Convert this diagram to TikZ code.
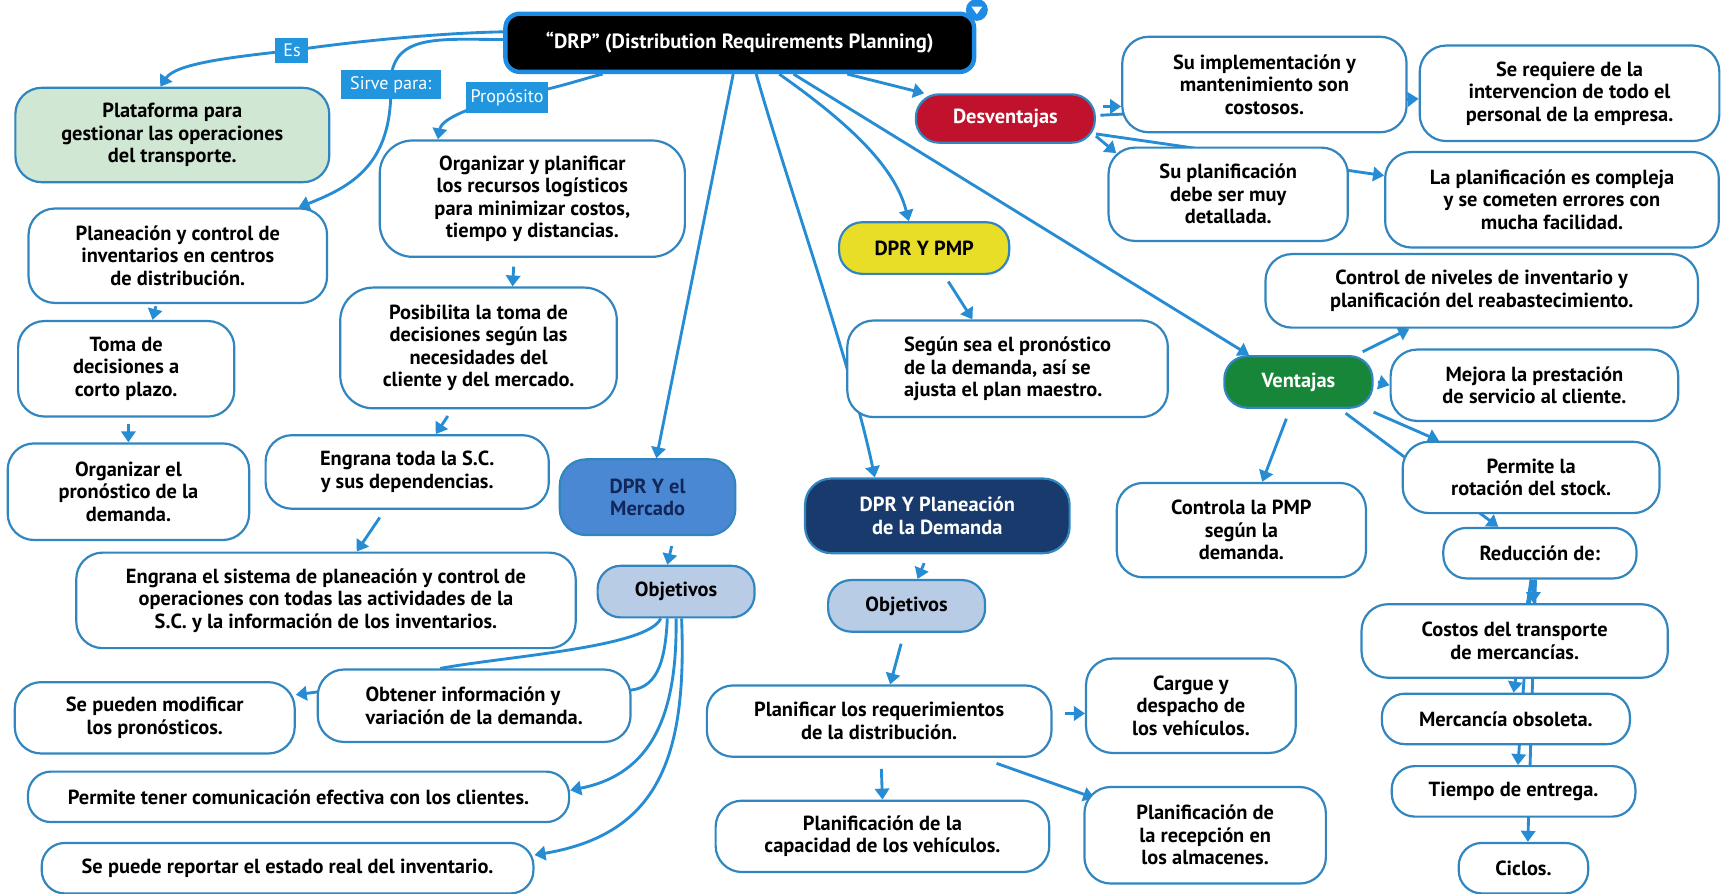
\documentclass[tikz,border=0pt]{standalone}
\usepackage{fontspec}
\setmainfont{PT Sans}
\usetikzlibrary{arrows.meta}
\definecolor{edgeblue}{RGB}{38,140,212}
\definecolor{nodeblue}{RGB}{50,134,192}
\definecolor{tagblue}{RGB}{33,150,222}
\definecolor{platgreen}{RGB}{208,231,212}
\definecolor{mercblue}{RGB}{74,136,212}
\definecolor{navytext}{RGB}{18,38,88}
\definecolor{objblue}{RGB}{184,204,230}
\definecolor{deepnavy}{RGB}{24,58,108}
\definecolor{pmpyellow}{RGB}{232,222,40}
\definecolor{desvred}{RGB}{192,18,44}
\definecolor{ventgreen}{RGB}{24,134,56}
\definecolor{rootblue}{RGB}{30,140,228}
\pgfdeclarelayer{back}
\pgfdeclarelayer{links}
\pgfsetlayers{back,links,main}
\tikzset{
  box/.style={draw=nodeblue, line width=2pt, fill=white, rounded corners=24pt,
    align=center, inner sep=0pt, font=\bfseries\fontsize{18.6}{20.5}\selectfont},
  pill/.style={box, rounded corners=21pt},
  wh/.style 2 args={minimum width=#1pt, minimum height=#2pt},
  tagbox/.style={fill=tagblue, text=white, inner sep=0pt, font=\fontsize{16.5}{18}\selectfont},
  conn/.style={draw=edgeblue, line width=2.6pt, -{Triangle[length=10pt,width=13pt]}},
  bare/.style={draw=edgeblue, line width=2.6pt},
}
\begin{document}
\begin{tikzpicture}[x=1pt, y=-1pt]
\useasboundingbox (0,0) rectangle (1568,814);
\begin{pgfonlayer}{back}
  \fill[white] (0,0) rectangle (1568,814);
\end{pgfonlayer}

% central topic
\node[draw=rootblue, line width=4pt, fill=black, rounded corners=13pt, text=white,
  font=\bfseries\fontsize{18.8}{21}\selectfont, wh={427}{53}, inner sep=0pt]
  (root) at (674,39) {“DRP” (Distribution Requirements Planning)};
\node[circle, fill=rootblue, minimum size=20pt, inner sep=0pt] (fold) at (890,9) {};
\fill[white] ([shift={(-5pt,3pt)}]fold.center) -- ++(10pt,0pt) -- ++(-5pt,-7pt) -- cycle;

% link labels
\node[tagbox, wh={30}{22}] (es) at (266,46) {Es};
\node[tagbox, wh={91}{27}] (sirve) at (356,77) {Sirve para:};
\node[tagbox, wh={75}{28}] (prop) at (462,89) {Propósito};

% left branch
\node[box, fill=platgreen, wh={286}{86}] (plat) at (157,123) {Plataforma para\\gestionar las operaciones\\del transporte.};
\node[box, wh={272}{86}] (planea) at (162,233) {Planeación y control de\\inventarios en centros\\de distribución.};
\node[box, wh={197}{87}] (toma) at (115,336) {Toma de\\decisiones a\\corto plazo.};
\node[box, wh={220}{88}] (orgp) at (117,448) {Organizar el\\pronóstico de la\\demanda.};
\node[box, wh={278}{106}, rounded corners=30pt] (org) at (485,181) {Organizar y planificar\\los recursos logísticos\\para minimizar costos,\\tiempo y distancias.};
\node[box, wh={252}{110}, rounded corners=30pt] (pos) at (436,317) {Posibilita la toma de\\decisiones según las\\necesidades del\\cliente y del mercado.};
\node[box, wh={258}{67}] (eng1) at (371,430) {Engrana toda la S.C.\\y sus dependencias.};
\node[box, wh={455}{87}] (eng2) at (297,547) {Engrana el sistema de planeación y control de\\operaciones con todas las actividades de la\\S.C. y la información de los inventarios.};

% market branch
\node[box, fill=mercblue, text=navytext, wh={160}{69}] (merc) at (590,453) {DPR Y el\\Mercado};
\node[pill, fill=objblue, wh={143}{47}] (objl) at (616,539) {Objetivos};
\node[box, wh={285}{66}, align=left] (obt) at (432,643) {Obtener información y\\variación de la demanda.};
\node[box, wh={255}{65}] (sp) at (141,654) {Se pueden modificar\\los pronósticos.};
\node[pill, wh={493}{46}] (pt) at (272,726) {Permite tener comunicación efectiva con los clientes.};
\node[pill, wh={448}{46}] (rep) at (262,791) {Se puede reportar el estado real del inventario.};

% PMP and demand planning branches
\node[pill, fill=pmpyellow, wh={155}{47}] (pmp) at (842,226) {DPR Y PMP};
\node[box, wh={292}{88}, align=left] (seg) at (918,336) {Según sea el pronóstico\\de la demanda, así se\\ajusta el plan maestro.};
\node[box, fill=deepnavy, text=white, wh={241}{68}] (pland) at (854,470) {DPR Y Planeación\\de la Demanda};
\node[pill, fill=objblue, wh={143}{47}] (objm) at (826,552) {Objetivos};
\node[box, wh={314}{65}] (planif) at (801,657) {Planificar los requerimientos\\de la distribución.};
\node[box, wh={191}{86}] (cargue) at (1085,643) {Cargue y\\despacho de\\los vehículos.};
\node[box, wh={304}{65}] (cap) at (804,762) {Planificación de la\\capacidad de los vehículos.};
\node[box, wh={220}{88}] (rec) at (1098,761) {Planificación de\\la recepción en\\los almacenes.};

% disadvantages
\node[pill, fill=desvred, text=white, wh={163}{44}] (desv) at (916,108) {Desventajas};
\node[box, wh={259}{87}] (impl) at (1152,77) {Su implementación y\\mantenimiento son\\costosos.};
\node[box, wh={273}{87}] (sereq) at (1430,85) {Se requiere de la\\intervencion de todo el\\personal de la empresa.};
\node[box, wh={218}{85}] (supl) at (1119,177) {Su planificación\\debe ser muy\\detallada.};
\node[box, wh={304}{87}] (compl) at (1414,182) {La planificación es compleja\\y se cometen errores con\\mucha facilidad.};

% advantages
\node[box, wh={394}{67}] (ctrl) at (1350,265) {Control de niveles de inventario y\\planificación del reabastecimiento.};
\node[pill, fill=ventgreen, text=white, wh={135}{47}] (vent) at (1183,348) {Ventajas};
\node[box, wh={262}{65}] (mej) at (1398,351) {Mejora la prestación\\de servicio al cliente.};
\node[box, wh={227}{86}] (contr) at (1131,483) {Controla la PMP\\según la\\demanda.};
\node[box, wh={234}{65}] (prot) at (1395,435) {Permite la\\rotación del stock.};
\node[pill, wh={176}{46}] (red) at (1403,504) {Reducción de:};
\node[box, wh={279}{67}] (costos) at (1380,584) {Costos del transporte\\de mercancías.};
\node[pill, wh={226}{46}] (merca) at (1372,655) {Mercancía obsoleta.};
\node[pill, wh={222}{46}] (tiempo) at (1379,721) {Tiempo de entrega.};
\node[pill, wh={118}{46}] (ciclos) at (1388,791) {Ciclos.};

\begin{pgfonlayer}{links}
  % from the central topic
  \draw[conn] ([yshift=10pt]root.west) .. controls (400,30) and (320,38) .. (es.center)
    .. controls (210,52) and (160,58) .. ([xshift=-11pt]plat.north);
  \draw[conn] ([yshift=3pt]root.west) .. controls (400,36) and (356,30) .. (sirve.center)
    .. controls (358,150) and (320,170) .. ([xshift=110pt]planea.north);
  \draw[conn] ([xshift=-125pt]root.south) .. controls (530,72) and (510,80) .. (prop.center)
    .. controls (420,100) and (402,110) .. ([xshift=-86pt]org.north);
  \draw[conn] ([xshift=-6pt]root.south) -- ([xshift=8pt]merc.north);
  \draw[conn] ([xshift=15pt]root.south) .. controls (715,160) and (775,330) .. ([xshift=-57pt]pland.north);
  \draw[conn] ([xshift=36pt]root.south) .. controls (770,110) and (815,150) .. ([xshift=-14pt]pmp.north);
  \draw[conn] ([xshift=49pt]root.south) -- ([xshift=-45pt]vent.north);
  \draw[conn] ([xshift=98pt]root.south) -- ([xshift=-74pt]desv.north);

  % left column
  \draw[conn] ([xshift=-20pt,yshift=-2pt]planea.south) -- ([xshift=24pt]toma.north);
  \draw[conn] ([xshift=2pt,yshift=-6pt]toma.south) -- (orgp.north);
  \draw[conn] ([xshift=-17pt,yshift=-8pt]org.south) -- ([xshift=31pt]pos.north);
  \draw[conn] ([xshift=-28pt,yshift=-6pt]pos.south) -- ([xshift=26pt]eng1.north);
  \draw[conn] ([xshift=-25pt,yshift=-7pt]eng1.south) -- ([xshift=28pt]eng2.north);

  % market objectives
  \draw[conn] ([xshift=22pt,yshift=-9pt]merc.south) -- ([xshift=-8pt]objl.north);
  \draw[bare] ([xshift=-14pt]objl.south) .. controls (590,590) and (460,598) .. ([xshift=-31pt]obt.north);
  \draw[conn] ([xshift=-8pt]objl.south) .. controls (606,605) and (598,629) .. (570,629)
    -- (300,629) -- ([yshift=21pt]sp.east);
  \draw[conn] (objl.south) .. controls (617,650) and (595,705) .. ([yshift=6pt]pt.east);
  \draw[conn] ([xshift=5pt]objl.south) .. controls (626,690) and (600,760) .. ([yshift=12pt]rep.east);

  % PMP and demand planning
  \draw[conn] ([xshift=22pt,yshift=-6pt]pmp.south) -- ([xshift=-32pt]seg.north);
  \draw[conn] ([xshift=-12pt,yshift=-8pt]pland.south) -- ([xshift=10pt]objm.north);
  \draw[conn] ([xshift=-5pt,yshift=-10pt]objm.south) -- ([xshift=10pt]planif.north);
  \draw[conn] ([xshift=11pt,yshift=7pt]planif.east) -- ([yshift=-7pt]cargue.west);
  \draw[conn] ([xshift=2pt,yshift=-10pt]planif.south) -- (cap.north);
  \draw[conn] ([xshift=107pt,yshift=-5pt]planif.south) -- ([xshift=10pt,yshift=34pt]rec.west);

  % disadvantages
  \draw[conn] ([xshift=6pt,yshift=11pt]desv.east) -- ([yshift=-20pt]impl.west);
  \draw[conn] ([xshift=4pt,yshift=3pt]desv.east) -- ([yshift=-5pt]sereq.west);
  \draw[conn] ([yshift=-16pt]desv.east) -- ([xshift=8pt,yshift=-6pt]supl.north west);
  \draw[conn] ([yshift=-14pt]desv.east) -- ([yshift=22pt]compl.west);

  % advantages
  \draw[conn] ([xshift=-10pt,yshift=3pt]vent.north east) -- ([xshift=-66pt]ctrl.south);
  \draw[conn] ([xshift=4pt]vent.east) -- (mej.west);
  \draw[conn] ([yshift=-3pt]vent.south east) -- ([xshift=-84pt]prot.north);
  \draw[conn] ([xshift=43pt,yshift=-4pt]vent.south) -- ([xshift=-38pt]red.north);
  \draw[conn] ([xshift=-11pt,yshift=-9pt]vent.south) -- ([xshift=19pt]contr.north);
  \draw[conn] ([xshift=-6pt]red.south) -- ([xshift=17pt]costos.north);
  \draw[conn] ([xshift=-8pt]red.south) -- ([xshift=7pt]merca.north);
  \draw[conn] ([xshift=-8pt]red.south) -- ([xshift=4pt]tiempo.north);
  \draw[conn] ([xshift=-4pt]red.south) -- ([xshift=4pt]ciclos.north);
\end{pgfonlayer}
\end{tikzpicture}
\end{document}
